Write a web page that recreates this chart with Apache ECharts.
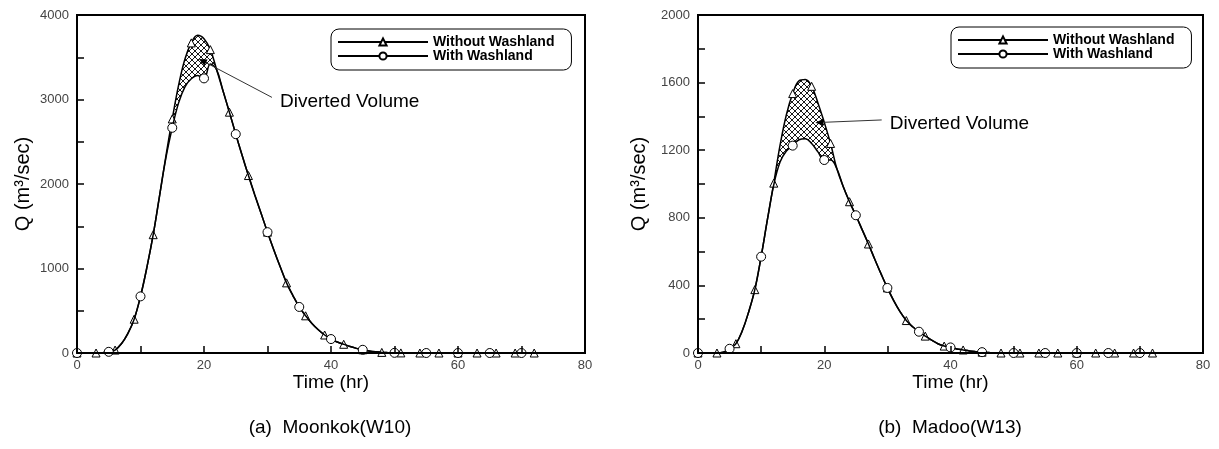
<!DOCTYPE html>
<html>
<head>
<meta charset="utf-8">
<script src="https://cdn.jsdelivr.net/npm/echarts@6/dist/echarts.min.js"></script>
<style>
  html, body { margin: 0; padding: 0; background: #fff; }
  #chart { width: 1219px; height: 449px; }
</style>
</head>
<body>
<div id="chart"></div>
<script>
// time in hours, one value per hour
const hours = [0,1,2,3,4,5,6,7,8,9,10,11,12,13,14,15,16,17,18,19,20,21,22,23,24,25,26,27,28,29,30,31,32,33,34,35,36,
  37,38,39,40,41,42,43,44,45,46,47,48,49,50,51,52,53,54,55,56,57,58,59,60,61,62,63,64,65,66,67,68,69,70,71,72]

// (a) Moonkok(W10), m3/sec
const moonkokWithout = [0,0,0,0,3,14,35,110,230,400,670,1010,1400,1860,2330,2770,3170,3480,3670,3760,3720,3590,3350,3100,
  2850,2590,2340,2100,1870,1650,1430,1220,1020,830,680,545,440,350,275,213,165,130,103,76,55,38,24,14,7,4,2,1,
  0,0,0,0,0,0,0,0,0,0,0,0,0,0,0,0,0,0,0,0,0]
const moonkokWith = [0,0,0,0,3,14,35,110,230,400,670,1010,1400,1860,2310,2665,2960,3150,3245,3285,3250,3420,3350,3100,
  2850,2590,2340,2100,1870,1650,1430,1220,1020,830,680,545,440,350,275,213,165,130,103,76,55,38,24,14,7,4,2,1,
  0,0,0,0,0,0,0,0,0,0,0,0,0,0,0,0,0,0,0,0,0]

// (b) Madoo(W13), m3/sec
const madooWithout = [0,0,0,0,5,25,55,130,240,375,570,790,1005,1230,1410,1535,1610,1618,1578,1480,1365,1240,1090,985,
  895,815,730,645,555,468,385,310,245,192,155,126,100,76,55,41,33,24,18,12,8,5,3,1,
  0,0,0,0,0,0,0,0,0,0,0,0,0,0,0,0,0,0,0,0,0,0,0,0,0]
const madooWith = [0,0,0,0,5,25,55,130,240,375,570,790,995,1130,1195,1227,1262,1268,1240,1190,1142,1142,1090,985,
  895,815,730,645,555,468,385,310,245,192,155,126,100,76,55,41,33,24,18,12,8,5,3,1,
  0,0,0,0,0,0,0,0,0,0,0,0,0,0,0,0,0,0,0,0,0,0,0,0,0]

const seriesNames = ['Without Washland', 'With Washland']
const captions = ['(a)  Moonkok(W10)', '(b)  Madoo(W13)']
const xTicks = [0, 20, 40, 60, 80]
const yMax = [4000, 2000]
const yLabelStep = [1000, 400]
const yTickStep = [500, 200]

// where the "Diverted Volume" callout points to, in data units [hr, m3/sec]
const calloutTip = [[19.2, 3480], [18.6, 1363]]
const calloutEnd = [[30.7, 3025], [29.1, 1379]]

const FONT = "'Liberation Sans', Arial, sans-serif"
const SMOOTH = 0.4

// cross hatch tile
const tile = document.createElement('canvas')
tile.width = 6
tile.height = 6
const tctx = tile.getContext('2d')
tctx.strokeStyle = '#000'
tctx.lineWidth = 0.9
tctx.beginPath()
tctx.moveTo(0, 0); tctx.lineTo(6, 6)
tctx.moveTo(6, 0); tctx.lineTo(0, 6)
tctx.stroke()

function pairs(values) {
  return values.map((v, i) => [hours[i], v])
}

function markedData(values, every) {
  return values.map((v, i) => i % every === 0 ? [hours[i], v] : {value: [hours[i], v], symbol: 'none'})
}

function buildSeries(gi, without, withW) {
  return [
    // hatched area under the no-washland curve ...
    {
      type: 'line', xAxisIndex: gi, yAxisIndex: gi, silent: true,
      data: pairs(without), smooth: SMOOTH, symbol: 'none',
      lineStyle: {opacity: 0}, areaStyle: {color: {image: tile, repeat: 'repeat'}, opacity: 1}, z: 1
    },
    // ... then covered in white below the washland curve, leaving the diverted volume
    {
      type: 'line', xAxisIndex: gi, yAxisIndex: gi, silent: true,
      data: pairs(withW), smooth: SMOOTH, symbol: 'none',
      lineStyle: {opacity: 0}, areaStyle: {color: '#fff', opacity: 1}, z: 2
    },
    {
      name: seriesNames[0], type: 'line', xAxisIndex: gi, yAxisIndex: gi,
      data: markedData(without, 3), smooth: SMOOTH, symbol: 'triangle', symbolSize: 8, showAllSymbol: true,
      lineStyle: {color: '#000', width: 1.5},
      itemStyle: {color: '#fff', borderColor: '#000', borderWidth: 1}, z: 3
    },
    {
      name: seriesNames[1], type: 'line', xAxisIndex: gi, yAxisIndex: gi,
      data: markedData(withW, 5), smooth: SMOOTH, symbol: 'circle', symbolSize: 9, showAllSymbol: true,
      lineStyle: {color: '#000', width: 1.5},
      itemStyle: {color: '#fff', borderColor: '#000', borderWidth: 1}, z: 4
    }
  ]
}

function xAxis(gi) {
  return {
    gridIndex: gi, type: 'value', min: 0, max: 80, interval: 10, z: 5,
    name: 'Time (hr)', nameLocation: 'middle', nameGap: 20, nameMoveOverlap: false,
    nameTextStyle: {fontSize: 19, color: '#000', fontFamily: FONT},
    axisLine: {show: true, onZero: false, lineStyle: {color: '#000', width: 2}},
    axisTick: {inside: true, length: 7, lineStyle: {color: '#000', width: 1.5}},
    axisLabel: {
      color: '#444', fontSize: 13, fontFamily: FONT, margin: 6,
      formatter: v => xTicks.indexOf(v) >= 0 ? String(v) : ''
    },
    splitLine: {show: false}
  }
}

function yAxis(gi, gap) {
  return {
    gridIndex: gi, type: 'value', min: 0, max: yMax[gi], interval: yTickStep[gi], z: 5,
    name: 'Q (m³/sec)', nameLocation: 'middle', nameGap: gap, nameMoveOverlap: false,
    nameTextStyle: {fontSize: 20, color: '#000', fontFamily: FONT},
    axisLine: {show: true, onZero: false, lineStyle: {color: '#000', width: 2}},
    axisTick: {inside: true, length: 7, lineStyle: {color: '#000', width: 1.5}},
    axisLabel: {
      color: '#444', fontSize: 13, fontFamily: FONT, margin: 8,
      formatter: v => v % yLabelStep[gi] === 0 ? String(v) : ''
    },
    splitLine: {show: false}
  }
}

function legend(left, top) {
  return {
    data: seriesNames, orient: 'vertical', left: left, top: top, selectedMode: false,
    itemWidth: 90, itemHeight: 9, itemGap: 0,
    padding: [6, 17, 7, 6], borderColor: '#000', borderWidth: 1, borderRadius: 8,
    textStyle: {fontSize: 14, fontWeight: 'bold', color: '#000', fontFamily: FONT}
  }
}

const chart = echarts.init(document.getElementById('chart'))
chart.setOption({
  animation: false,
  backgroundColor: '#fff',
  grid: [
    {left: 77, top: 15, width: 508, height: 338, show: true, borderColor: '#000', borderWidth: 2, backgroundColor: 'transparent'},
    {left: 698, top: 15, width: 505, height: 338, show: true, borderColor: '#000', borderWidth: 2, backgroundColor: 'transparent'}
  ],
  legend: [legend(331, 29), legend(951, 27)],
  xAxis: [xAxis(0), xAxis(1)],
  yAxis: [yAxis(0, 44), yAxis(1, 49)],
  series: [].concat(
    buildSeries(0, moonkokWithout, moonkokWith),
    buildSeries(1, madooWithout, madooWith)
  )
})

// callouts and captions
const graphics = []
const captionX = [330, 950]
for (let gi = 0; gi < 2; gi++) {
  const tip = chart.convertToPixel({gridIndex: gi}, calloutTip[gi])
  const end = chart.convertToPixel({gridIndex: gi}, calloutEnd[gi])
  const dx = end[0] - tip[0], dy = end[1] - tip[1]
  const len = Math.sqrt(dx * dx + dy * dy)
  const ux = dx / len, uy = dy / len
  const head = 8, half = 3.5
  const bx = tip[0] + ux * head, by = tip[1] + uy * head
  graphics.push({
    type: 'polygon', z: 10,
    shape: {points: [tip, [bx - uy * half, by + ux * half], [bx + uy * half, by - ux * half]]},
    style: {fill: '#000'}
  })
  graphics.push({
    type: 'line', z: 10,
    shape: {x1: bx, y1: by, x2: end[0], y2: end[1]},
    style: {stroke: '#333', lineWidth: 1}
  })
  graphics.push({
    type: 'text', z: 10, x: end[0] + 8, y: end[1] + 4,
    style: {text: 'Diverted Volume', fontSize: 19, fontFamily: FONT, fill: '#000', verticalAlign: 'middle'}
  })
  graphics.push({
    type: 'text', x: captionX[gi], y: 428,
    style: {text: captions[gi], fontSize: 19, fontFamily: FONT, fill: '#000', align: 'center', verticalAlign: 'middle'}
  })
}
chart.setOption({graphic: graphics})
</script>
</body>
</html>
